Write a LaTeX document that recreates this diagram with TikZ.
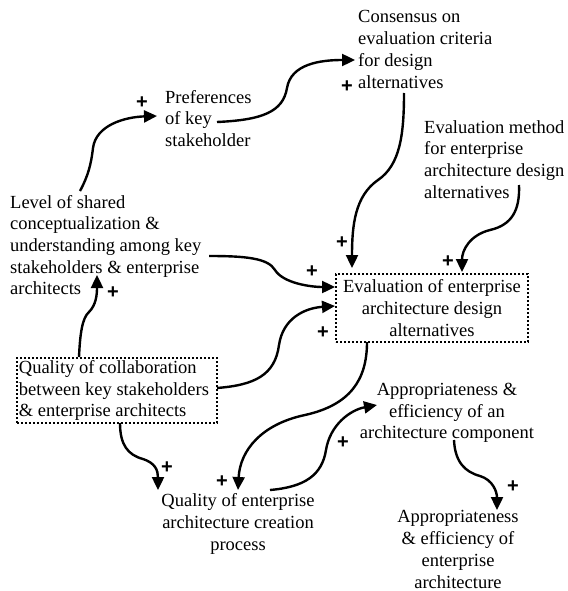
\documentclass[tikz,border=0pt]{standalone}
\usepackage{fontspec}
\setmainfont{Liberation Serif}
\newfontfamily\plusfont{Liberation Sans}
\usetikzlibrary{arrows.meta,calc}

\tikzset{
  lbl/.style={inner sep=0pt, font=\fontsize{18.5}{21.7}\selectfont},
  lblleft/.style={lbl, align=left, anchor=west},
  lblmid/.style={lbl, align=center, anchor=center},
  dotbox/.style={draw, line width=1.8pt, dash pattern=on 1.8pt off 2.2pt},
  link/.style={line width=2.4pt, -{Triangle[length=13pt,width=12pt]}},
  plusmark/.style={inner sep=0pt, font=\plusfont\bfseries\fontsize{20}{20}\selectfont}
}

\begin{document}
\begin{tikzpicture}[x=1pt, y=-1pt]
\useasboundingbox (0,0) rectangle (567,591);

% ---- factors ----
\node[lblleft] (pref) at (165,118.5) {Preferences\\of key\\stakeholder};
\node[lblleft] (cons) at (358,49.5) {Consensus on\\evaluation criteria\\for design\\alternatives};
\node[lblleft] (meth) at (424,159.5) {Evaluation method\\for enterprise\\architecture design\\alternatives};
\node[lblleft] (lvl) at (10,245) {Level of shared\\conceptualization \&\\understanding among key\\stakeholders \& enterprise\\architects};
\node[lblmid, dotbox, minimum width=192pt, minimum height=68pt] (eval) at (432,308)
  {Evaluation of enterprise\\architecture design\\alternatives};
\node[lbl, dotbox, align=flush left, anchor=west, text width=196pt, inner xsep=2pt,
      minimum height=65pt] (collab) at (16,390.5)
  {Quality of collaboration\\between key stakeholders\\\& enterprise architects};
\node[lblmid] (qeap) at (238,524) {Quality of enterprise\\architecture creation\\process};
\node[lblmid] (appc) at (447,413) {Appropriateness \&\\efficiency of an\\architecture component};
\node[lblmid] (appe) at (458,549.5) {Appropriateness\\\& efficiency of\\enterprise\\architecture};

% ---- causal links ----
\draw[link] ($(lvl.west)+(70,-54)$) .. controls (88,176) and (91,165) .. (93,148)
  .. controls (96,125) and (125,117) .. ($(pref.west)+(-8,-2.5)$);
\draw[link] ($(pref.west)+(52,3.5)$) .. controls (262,120) and (283,112) .. (287,88)
  .. controls (291,64) and (320,60) .. ($(cons.west)+(-3,10.5)$);
\draw[link] ($(cons.west)+(46,43.5)$) .. controls (404,135) and (400,165) .. (378,180)
  .. controls (355,196) and (352,225) .. ($(eval.center)+(-80,-40)$);
\draw[link] ($(meth.west)+(95,25.5)$) .. controls (520,210) and (512,225) .. (490,230)
  .. controls (470,235) and (462,250) .. ($(eval.center)+(30,-36)$);
\draw[link] ($(lvl.west)+(199,11)$) .. controls (245,256) and (268,258) .. (275,270)
  .. controls (283,283) and (310,287) .. ($(eval.center)+(-97,-21)$);
\draw[link] ($(collab.west)+(201,-2.5)$) .. controls (255,385) and (275,375) .. (279,345)
  .. controls (283,318) and (305,308) .. ($(eval.center)+(-97,-2)$);
\draw[link] ($(collab.west)+(63,-33.5)$) .. controls (80,335) and (82,318) .. (89,312)
  .. controls (96,305) and (97,295) .. ($(lvl.west)+(87,30)$);
\draw[link] ($(eval.center)+(-65,34)$) .. controls (367,380) and (350,405) .. (305,415)
  .. controls (262,424) and (240,450) .. ($(qeap.center)+(0,-34)$);
\draw[link] ($(collab.west)+(104,32.5)$) .. controls (120,445) and (128,455) .. (143,459)
  .. controls (155,463) and (158,470) .. ($(qeap.center)+(-80,-34)$);
\draw[link] ($(qeap.center)+(32,-34)$) .. controls (305,487) and (322,475) .. (326,450)
  .. controls (330,425) and (350,410) .. ($(appc.center)+(-70,-8)$);
\draw[link] ($(appc.center)+(7,27)$) .. controls (455,462) and (465,472) .. (480,476)
  .. controls (493,480) and (497,492) .. ($(appe.center)+(39,-39.5)$);

% ---- polarity marks ----
\node[plusmark] (pa) at (142,103) {+};
\node[plusmark] (pb) at (347,87) {+};
\node[plusmark] (pc) at (342,243) {+};
\node[plusmark] (pd) at (448,262) {+};
\node[plusmark] (pe) at (312,272) {+};
\node[plusmark] (pf) at (323,333) {+};
\node[plusmark] (pg) at (113,293) {+};
\node[plusmark] (ph) at (222,482) {+};
\node[plusmark] (pi) at (167,468) {+};
\node[plusmark] (pj) at (343,443) {+};
\node[plusmark] (pk) at (513,487) {+};
\end{tikzpicture}
\end{document}
